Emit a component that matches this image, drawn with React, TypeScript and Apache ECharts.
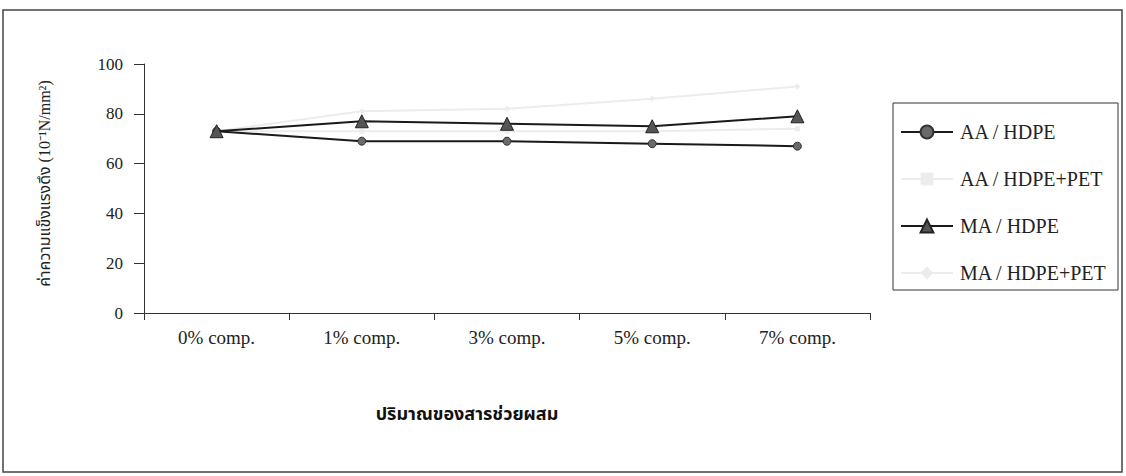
import React, { useEffect, useRef } from "react";
import * as echarts from "echarts";

// Categories: amount of compatibilizer
const categories = ["0% comp.", "1% comp.", "3% comp.", "5% comp.", "7% comp."];

// Tensile strength values per blend
const aaHdpe = [73, 69, 69, 68, 67];
const aaHdpePet = [73, 73, 73, 73, 74];
const maHdpe = [73, 77, 76, 75, 79];
const maHdpePet = [73, 81, 82, 86, 91];

const seriesNames = ["AA / HDPE", "AA / HDPE+PET", "MA / HDPE", "MA / HDPE+PET"];

const yTicks = { min: 0, max: 100, interval: 20 };

const SERIF = "'Liberation Serif', 'Times New Roman', serif";
const THAI = "'Liberation Serif', 'Noto Sans Thai', 'Loma', 'Garuda', 'Norasi', sans-serif";

export default function App() {
  const ref = useRef<HTMLDivElement>(null);

  useEffect(() => {
    if (!ref.current) return;
    const chart = echarts.init(ref.current, undefined, { renderer: "svg" });
    const faint = "#ececec";
    chart.setOption({
      animation: false,
      backgroundColor: "#ffffff",
      grid: { left: 144, right: 256, top: 64, bottom: 163, containLabel: false },
      legend: {
        orient: "vertical",
        left: 900,
        top: 122,
        itemWidth: 52,
        itemHeight: 16,
        itemGap: 27,
        padding: 0,
        data: seriesNames,
        textStyle: { fontFamily: SERIF, fontSize: 20, color: "#222", padding: [0, 0, 0, 2] },
      },
      xAxis: {
        type: "category",
        data: categories,
        boundaryGap: true,
        axisLine: { lineStyle: { color: "#333", width: 1 } },
        axisTick: { show: true, length: 7, lineStyle: { color: "#333" } },
        axisLabel: { fontFamily: SERIF, fontSize: 19, color: "#222", margin: 15 },
        name: "ปริมาณของสารช่วยผสม",
        nameLocation: "middle",
        nameGap: 92,
        nameTextStyle: {
          fontFamily: THAI,
          fontSize: 18,
          fontWeight: "bold",
          color: "#111",
          padding: [0, 80, 0, 0],
        },
      },
      yAxis: {
        type: "value",
        min: yTicks.min,
        max: yTicks.max,
        interval: yTicks.interval,
        axisLine: { show: true, lineStyle: { color: "#333", width: 1 } },
        axisTick: { show: true, length: 10, lineStyle: { color: "#333" } },
        splitLine: { show: false },
        axisLabel: { fontFamily: SERIF, fontSize: 17, color: "#222", margin: 21 },
        name: "ค่าความแข็งแรงดึง (10⁻¹N/mm²)",
        nameLocation: "middle",
        nameGap: 92,
        nameRotate: 90,
        nameTextStyle: { fontFamily: THAI, fontSize: 16, color: "#222", padding: [0, 0, 0, 10] },
      },
      series: [
        {
          name: seriesNames[0],
          type: "line",
          data: aaHdpe,
          symbol: "circle",
          symbolSize: 8,
          lineStyle: { color: "#1a1a1a", width: 2 },
          itemStyle: { color: "#6a6a6a", borderColor: "#333", borderWidth: 1 },
          z: 4,
        },
        {
          name: seriesNames[1],
          type: "line",
          data: aaHdpePet,
          symbol: "rect",
          symbolSize: 5,
          lineStyle: { color: faint, width: 2 },
          itemStyle: { color: faint },
          z: 2,
        },
        {
          name: seriesNames[2],
          type: "line",
          data: maHdpe,
          symbol: "triangle",
          symbolSize: 13,
          lineStyle: { color: "#1a1a1a", width: 2 },
          itemStyle: { color: "#555", borderColor: "#222", borderWidth: 1 },
          z: 5,
        },
        {
          name: seriesNames[3],
          type: "line",
          data: maHdpePet,
          symbol: "diamond",
          symbolSize: 6,
          lineStyle: { color: faint, width: 2 },
          itemStyle: { color: faint },
          z: 2,
        },
      ],
      graphic: [
        {
          type: "rect",
          shape: { x: 3, y: 10, width: 1119, height: 462 },
          style: { fill: "none", stroke: "#444", lineWidth: 1.5 },
          silent: true,
          z: -1,
        },
        {
          type: "rect",
          shape: { x: 893, y: 103, width: 225, height: 187 },
          style: { fill: "none", stroke: "#333", lineWidth: 1 },
          silent: true,
        },
      ],
    });
    return () => chart.dispose();
  }, []);

  return (
    <div
      ref={ref}
      style={{ position: "fixed", left: 0, top: 0, width: 1126, height: 476 }}
    />
  );
}
